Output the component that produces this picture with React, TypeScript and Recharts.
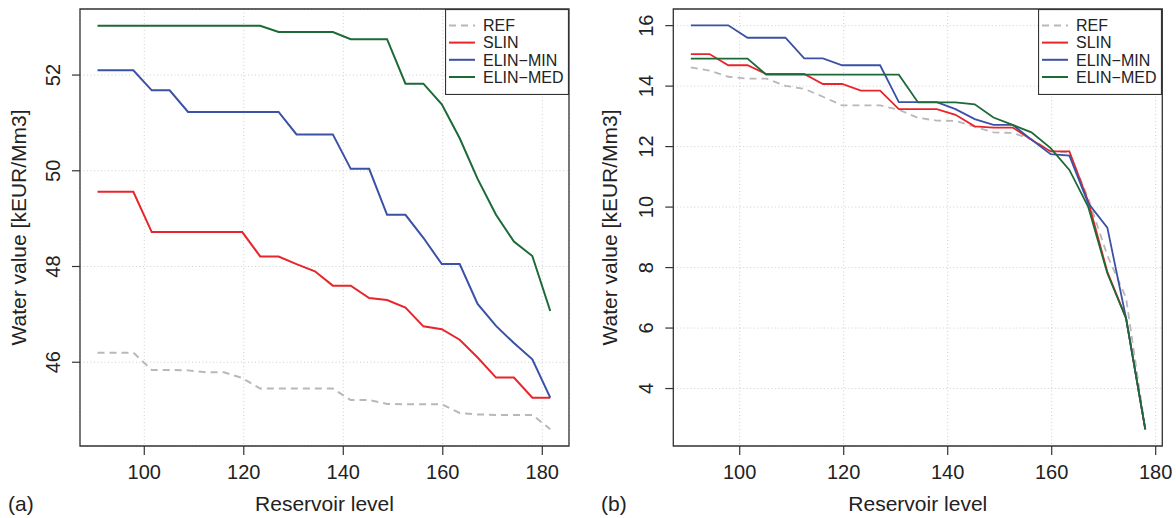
import React from 'react';
import { LineChart, Line, XAxis, YAxis, CartesianGrid, ReferenceArea, Legend } from 'recharts';

const font = '"Liberation Sans", Arial, Helvetica, sans-serif';

// reservoir levels (x)
const levels = [
  90.6, 94.2, 97.8, 101.5, 105.1, 108.8, 112.4, 116.0, 119.7, 123.3, 127.0, 130.6, 134.3,
  137.9, 141.5, 145.2, 148.8, 152.5, 156.1, 159.8, 163.4, 167.0, 170.7, 174.3, 178.0, 181.6,
];

// panel (a)
const refA = [
  46.2, 46.2, 46.2, 45.84, 45.84, 45.83, 45.79, 45.79, 45.67, 45.45, 45.45, 45.45, 45.45,
  45.45, 45.21, 45.21, 45.13, 45.12, 45.12, 45.12, 44.94, 44.91, 44.9, 44.9, 44.9, 44.6,
];
const slinA = [
  49.56, 49.56, 49.56, 48.72, 48.72, 48.72, 48.72, 48.72, 48.72, 48.21, 48.21, 48.05, 47.9,
  47.6, 47.6, 47.34, 47.3, 47.14, 46.75, 46.69, 46.47, 46.1, 45.68, 45.68, 45.26, 45.26,
];
const elinMinA = [
  52.1, 52.1, 52.1, 51.68, 51.68, 51.23, 51.23, 51.23, 51.23, 51.23, 51.23, 50.76, 50.76,
  50.76, 50.04, 50.04, 49.08, 49.08, 48.6, 48.05, 48.05, 47.22, 46.76, 46.4, 46.06, 45.26,
];
const elinMedA = [
  53.03, 53.03, 53.03, 53.03, 53.03, 53.03, 53.03, 53.03, 53.03, 53.03, 52.9, 52.9, 52.9,
  52.9, 52.75, 52.75, 52.75, 51.82, 51.82, 51.39, 50.68, 49.83, 49.08, 48.52, 48.22, 47.07,
];

// panel (b)
const refB = [
  14.62, 14.51, 14.31, 14.25, 14.25, 14.01, 13.91, 13.65, 13.36, 13.36, 13.36, 13.22, 12.95,
  12.86, 12.85, 12.66, 12.47, 12.45, 12.25, 11.85, 11.8, 10.3, 8.4, 7.0, 2.65,
];
const slinB = [
  15.06, 15.06, 14.69, 14.69, 14.4, 14.4, 14.4, 14.07, 14.07, 13.85, 13.85, 13.24, 13.24,
  13.24, 13.05, 12.67, 12.63, 12.63, 12.23, 11.84, 11.84, 10.2, 7.86, 6.33, 2.65,
];
const elinMinB = [
  16.01, 16.01, 16.01, 15.6, 15.6, 15.6, 14.92, 14.92, 14.69, 14.69, 14.69, 13.47, 13.47,
  13.47, 13.24, 12.91, 12.72, 12.72, 12.23, 11.75, 11.7, 10.13, 9.32, 6.33, 2.65,
];
const elinMedB = [
  14.91, 14.91, 14.91, 14.91, 14.38, 14.38, 14.38, 14.38, 14.38, 14.38, 14.38, 14.38, 13.46,
  13.46, 13.46, 13.4, 12.96, 12.72, 12.47, 11.95, 11.23, 10.02, 7.81, 6.32, 2.65,
];

const xTicks = [100, 120, 140, 160, 180];
const yTicksA = [46, 48, 50, 52];
const yTicksB = [4, 6, 8, 10, 12, 14, 16];

const series = [
  { key: 'REF', name: 'REF', color: '#b8b8b8', dash: '7 5' },
  { key: 'SLIN', name: 'SLIN', color: '#e8252b' },
  { key: 'ELIN_MIN', name: 'ELIN\u2212MIN', color: '#3a51a6' },
  { key: 'ELIN_MED', name: 'ELIN\u2212MED', color: '#1c6a37' },
];

const dataA = levels.map((level, i) => ({
  level,
  REF: refA[i],
  SLIN: slinA[i],
  ELIN_MIN: elinMinA[i],
  ELIN_MED: elinMedA[i],
}));

const dataB = levels.slice(0, refB.length).map((level, i) => ({
  level,
  REF: refB[i],
  SLIN: slinB[i],
  ELIN_MIN: elinMinB[i],
  ELIN_MED: elinMedB[i],
}));

const XTick = (props: any) => (
  <text x={props.x} y={props.y} dy="0.71em" textAnchor="middle" fontSize={20} fill="#222" fontFamily={font}>
    {props.payload.value}
  </text>
);

const YTick = (props: any) => (
  <text
    x={props.x}
    y={props.y}
    transform={`rotate(-90, ${props.x}, ${props.y})`}
    textAnchor="middle"
    fontSize={20}
    fill="#222"
    fontFamily={font}
  >
    {props.payload.value}
  </text>
);

const LegendBox = () => (
  <svg width={124} height={86} style={{ display: 'block' }}>
    <rect x={0.5} y={0.5} width={123} height={85} fill="#fff" stroke="#333" strokeWidth={1.2} />
    {series.map((s, i) => {
      const cy = 16.4 + i * 17.2;
      return (
        <g key={s.key}>
          <line x1={4} x2={30} y1={cy} y2={cy} stroke={s.color} strokeWidth={2} strokeDasharray={s.dash} />
          <text x={38} y={cy} dy="0.36em" fontSize={16} fill="#222" fontFamily={font}>
            {s.name}
          </text>
        </g>
      );
    })}
  </svg>
);

interface PanelProps {
  data: any[];
  left: number;
  width: number;
  axisWidth: number;
  xDomain: [number, number];
  yDomain: [number, number];
  yTicks: number[];
  tag: string;
  titleX: number;
  lineWidth: number;
}

function Panel({ data, left, width, axisWidth, xDomain, yDomain, yTicks, tag, titleX, lineWidth }: PanelProps) {
  const plotW = 489;
  return (
    <div style={{ position: 'absolute', left, top: 0 }}>
      <LineChart
        width={width}
        height={518}
        data={data}
        margin={{ top: 9, right: width - axisWidth - plotW, bottom: 0, left: 0 }}
      >
        <CartesianGrid stroke="#cfcfcf" strokeDasharray="1 2.5" />
        <XAxis
          dataKey="level"
          type="number"
          domain={xDomain}
          allowDataOverflow
          ticks={xTicks}
          height={72}
          tickSize={9}
          tickMargin={10}
          axisLine={false}
          tickLine={{ stroke: '#333', strokeWidth: 1.2 }}
          tick={<XTick />}
          label={{
            content: (p: any) => (
              <g fontFamily={font} fill="#222" fontSize={21}>
                <text x={p.viewBox.x + p.viewBox.width / 2} y={511} textAnchor="middle">
                  Reservoir level
                </text>
                <text x={8} y={511}>{tag}</text>
              </g>
            ),
          }}
        />
        <YAxis
          type="number"
          domain={yDomain}
          allowDataOverflow
          ticks={yTicks}
          width={axisWidth}
          tickSize={8}
          tickMargin={12}
          axisLine={false}
          tickLine={{ stroke: '#333', strokeWidth: 1.2 }}
          tick={<YTick />}
          label={{
            content: () => (
              <text
                x={titleX}
                y={227.5}
                transform={`rotate(-90, ${titleX}, 227.5)`}
                textAnchor="middle"
                fontFamily={font}
                fontSize={21}
                fill="#222"
              >
                Water value [kEUR/Mm3]
              </text>
            ),
          }}
        />
        {series.map((s) => (
          <Line
            key={s.key}
            dataKey={s.key}
            name={s.name}
            type="linear"
            stroke={s.color}
            strokeWidth={lineWidth}
            strokeDasharray={s.dash}
            dot={false}
            activeDot={false}
            isAnimationActive={false}
          />
        ))}
        <ReferenceArea
          x1={xDomain[0]}
          x2={xDomain[1]}
          y1={yDomain[0]}
          y2={yDomain[1]}
          fill="none"
          stroke="#333"
          strokeWidth={1.3}
          ifOverflow="visible"
        />
        <Legend
          layout="vertical"
          align="center"
          verticalAlign="middle"
          wrapperStyle={{ left: 445, top: 9, width: 124, height: 86 }}
          content={() => <LegendBox />}
        />
      </LineChart>
    </div>
  );
}

export default function App() {
  return (
    <div style={{ position: 'absolute', left: 0, top: 0, width: 1176, height: 518, background: '#fff' }}>
      <Panel
        data={dataA}
        left={0}
        width={588}
        axisWidth={80}
        xDomain={[87.08, 185.37]}
        yDomain={[44.25, 53.38]}
        yTicks={yTicksA}
        tag="(a)"
        titleX={26}
        lineWidth={2}
      />
      <Panel
        data={dataB}
        left={593}
        width={583}
        axisWidth={80.3}
        xDomain={[87.23, 181.27]}
        yDomain={[2.1, 16.55]}
        yTicks={yTicksB}
        tag="(b)"
        titleX={23.5}
        lineWidth={1.8}
      />
    </div>
  );
}
